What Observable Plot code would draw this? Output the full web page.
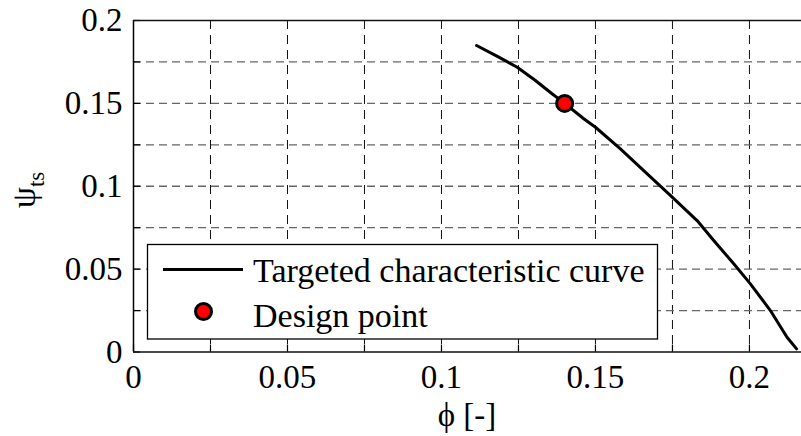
<!DOCTYPE html>
<html><head><meta charset="utf-8">
<script src="https://cdn.jsdelivr.net/npm/d3@7"></script>
<script src="https://cdn.jsdelivr.net/npm/@observablehq/plot@0.6"></script>
<style>body{margin:0;background:#fff} svg{display:block} svg text{font-family: "Liberation Serif", "Times New Roman", serif;}</style>
</head><body><div id="chart"></div>
<script>
// Targeted characteristic curve (phi, psi_ts)
const curvePhi = [0.1114, 0.1186, 0.1246, 0.1305, 0.1359, 0.1400, 0.1462, 0.1500, 0.1581, 0.1668, 0.1744, 0.1830, 0.1884, 0.1949, 0.2003, 0.2068, 0.2122, 0.2153];
const curvePsi = [0.1849, 0.1779, 0.1718, 0.1638, 0.1558, 0.1500, 0.1407, 0.1356, 0.1226, 0.1075, 0.0944, 0.0793, 0.0673, 0.0532, 0.0411, 0.0250, 0.0089, 0.0019];
// Design point
const designPhi = [0.14];
const designPsi = [0.15];
// Axes
const xTickValues = [0, 0.05, 0.1, 0.15, 0.2];
const xTickLabels = ["0", "0.05", "0.1", "0.15", "0.2"];
const yTickValues = [0, 0.05, 0.1, 0.15, 0.2];
const yTickLabels = ["0", "0.05", "0.1", "0.15", "0.2"];
const xGridValues = [0.025, 0.05, 0.075, 0.1, 0.125, 0.15, 0.175, 0.2];
const yGridValues = [0.025, 0.05, 0.075, 0.1, 0.125, 0.15, 0.175];
const xMinorTicks = [0, 0.025, 0.05, 0.075, 0.1, 0.125, 0.15, 0.175, 0.2];
const yMinorTicks = [0, 0.025, 0.05, 0.075, 0.1, 0.125, 0.15, 0.175, 0.2];
const xDomain = [0, 0.2169];
const yDomain = [0, 0.2];
const legendLabels = ["Targeted characteristic curve", "Design point"];
const xLabel = "ϕ [-]";
const yLabelMain = "ψ";
const yLabelSub = "ts";

const curve = curvePhi.map((x, i) => ({x, y: curvePsi[i]}));
const design = designPhi.map((x, i) => ({x, y: designPsi[i]}));
const FONT = "Liberation Serif, Times New Roman, serif";

const chart = Plot.plot({
  width: 801,
  height: 436,
  marginLeft: 133,
  marginRight: 0,
  marginTop: 20,
  marginBottom: 84.5,
  style: {fontFamily: FONT, fontSize: "33px", background: "#fff", overflow: "visible"},
  x: {domain: xDomain},
  y: {domain: yDomain},
  marks: [
    Plot.ruleX(xGridValues, {x: d => d, stroke: "#111", strokeWidth: 1, strokeDasharray: "9,6"}),
    Plot.ruleY(yGridValues, {y: d => d, stroke: "#666", strokeWidth: 1.3, strokeDasharray: "8,5"}),
    Plot.ruleX(xMinorTicks, {x: d => d, y1: 0, y2: 0, insetTop: -7, stroke: "#000", strokeWidth: 1.2}),
    Plot.ruleY(yMinorTicks, {y: d => d, x1: 0, x2: 0, insetRight: -7, stroke: "#000", strokeWidth: 1.2}),
    Plot.ruleX([0], {stroke: "#000", strokeWidth: 1.5}),
    Plot.ruleY([0, 0.2], {stroke: "#111", strokeWidth: 1.5}),
    Plot.line(curve, {x: "x", y: "y", stroke: "#000", strokeWidth: 3, strokeLinejoin: "round", strokeLinecap: "round"}),
    Plot.dot(design, {x: "x", y: "y", r: 8, fill: "#f00", stroke: "#000", strokeWidth: 3}),
    Plot.axisX({ticks: xTickValues, tickSize: 0, tickPadding: 13, label: null,
      tickFormat: d => xTickLabels[xTickValues.indexOf(d)], fill: "#000"}),
    Plot.axisY({ticks: yTickValues, tickSize: 0, tickPadding: 11, label: null,
      tickFormat: d => yTickLabels[yTickValues.indexOf(d)], fill: "#000"})
  ]
});
document.getElementById("chart").appendChild(chart);

const svg = d3.select(chart);
const xs = chart.scale("x");
const cx = (xs.range[0] + xs.range[1]) / 2;

// x axis label
svg.append("text").attr("x", cx).attr("y", 426).attr("text-anchor", "middle")
  .style("font-family", FONT).style("font-size", "33px").attr("fill", "#000").text(xLabel);

// y axis label with subscript
const yl = svg.append("text").attr("transform", "translate(35,190) rotate(-90)")
  .attr("text-anchor", "middle").style("font-family", FONT).style("font-size", "34px").attr("fill", "#000");
yl.append("tspan").text(yLabelMain);
yl.append("tspan").style("font-size", "23px").attr("dy", 9).text(yLabelSub);

// legend
const lg = svg.append("g").attr("text-anchor", "start");
lg.append("rect").attr("x", 147.5).attr("y", 244.5).attr("width", 510).attr("height", 94.5)
  .attr("fill", "#fff").attr("stroke", "#000").attr("stroke-width", 1.3);
lg.append("line").attr("x1", 163).attr("x2", 243).attr("y1", 269.5).attr("y2", 269.5)
  .attr("stroke", "#000").attr("stroke-width", 3);
lg.append("circle").attr("cx", 203.5).attr("cy", 311.5).attr("r", 8)
  .attr("fill", "#f00").attr("stroke", "#000").attr("stroke-width", 3);
lg.append("text").attr("x", 253).attr("y", 282).attr("text-anchor", "start").style("font-family", FONT).style("font-size", "34px")
  .attr("fill", "#000").text(legendLabels[0]);
lg.append("text").attr("x", 253).attr("y", 327).attr("text-anchor", "start").style("font-family", FONT).style("font-size", "34px")
  .attr("fill", "#000").text(legendLabels[1]);
</script>
</body></html>
